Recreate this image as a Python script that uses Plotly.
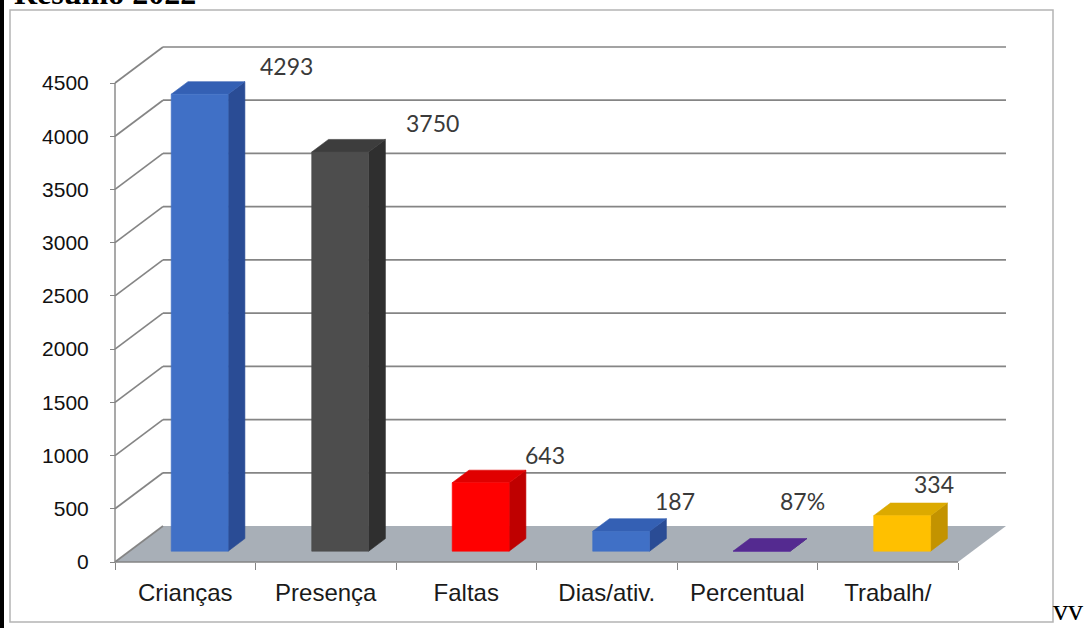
import plotly.graph_objects as go

# ---------------- data ----------------
categories = ["Crianças", "Presença", "Faltas", "Dias/ativ.", "Percentual", "Trabalh/"]
values = [4293, 3750, 643, 187, 0.87, 334]
value_labels = ["4293", "3750", "643", "187", "87%", "334"]
y_ticks = [0, 500, 1000, 1500, 2000, 2500, 3000, 3500, 4000, 4500]

# ---------------- style ----------------
front_colors = ["#4070c6", "#4d4d4d", "#ff0000", "#4070c6", "#5e2f9e", "#ffc000"]
side_colors = ["#2a4c95", "#2f2f2f", "#bf0000", "#2a4c95", "#45207a", "#c39300"]
top_colors = ["#3460b4", "#3d3d3d", "#e00000", "#3460b4", "#542a90", "#dcaa00"]
label_dx = [87, 92, 64, 54, 41, 32]   # pixel shifts of the value labels
label_dy = [28, 29, 28, 30, 50, 32]

W, H = 1087, 628
FRONT_LEFT_PX, FRONT_RIGHT_PX = 115, 958
Y0_PX, YTOP_PX = 562, 83
PX_PER_CAT = (FRONT_RIGHT_PX - FRONT_LEFT_PX) / len(categories)
PX_PER_VAL = (Y0_PX - YTOP_PX) / y_ticks[-1]

x0 = -0.5 - FRONT_LEFT_PX / PX_PER_CAT
x_range = [x0, x0 + W / PX_PER_CAT]
y_range = [-(H - Y0_PX) / PX_PER_VAL, Y0_PX / PX_PER_VAL]

DX = 48 / PX_PER_CAT     # depth offset (category units)
DY = 36 / PX_PER_VAL     # depth offset (value units)
D0, D1 = 0.30, 0.65      # bar depth span within the floor
HW = 0.2025              # half bar width
GRID = "#858585"
FLOOR = "#a8afb7"

xl_edge = -0.5
xr_edge = len(categories) - 0.5

fig = go.Figure()

# floor
fig.add_trace(go.Scatter(
    x=[xl_edge, xr_edge, xr_edge + DX, xl_edge + DX, xl_edge],
    y=[0, 0, DY, DY, 0], fill="toself", fillcolor=FLOOR,
    mode="lines", line=dict(width=0), hoverinfo="skip", showlegend=False))

# back wall gridlines and side-wall diagonals
gx, gy = [], []
for v in y_ticks:
    if v > 0:
        gx += [xl_edge + DX, xr_edge + DX, None]
        gy += [v + DY, v + DY, None]
    gx += [xl_edge, xl_edge + DX, None]
    gy += [v, v + DY, None]
fig.add_trace(go.Scatter(x=gx, y=gy, mode="lines", line=dict(color=GRID, width=1.7),
                         hoverinfo="skip", showlegend=False))

# front vertical axis and floor front edge
fig.add_trace(go.Scatter(x=[xl_edge, xl_edge, None, xl_edge, xr_edge],
                         y=[y_ticks[-1], 0, None, 0, 0], mode="lines",
                         line=dict(color=GRID, width=1.4), hoverinfo="skip", showlegend=False))

# 3D bars
ddx = (D1 - D0) * DX
ddy = (D1 - D0) * DY
annotations = []
for i, v in enumerate(values):
    xl = i - HW + D0 * DX
    xr = i + HW + D0 * DX
    yb = D0 * DY
    yt = yb + v
    faces = [
        ([xr, xr + ddx, xr + ddx, xr, xr], [yb, yb + ddy, yt + ddy, yt, yb], side_colors[i]),
        ([xl, xr, xr + ddx, xl + ddx, xl], [yt, yt, yt + ddy, yt + ddy, yt], top_colors[i]),
        ([xl, xr, xr, xl, xl], [yb, yb, yt, yt, yb], front_colors[i]),
    ]
    for fx, fy, col in faces:
        fig.add_trace(go.Scatter(x=fx, y=fy, fill="toself", fillcolor=col, mode="lines",
                                 line=dict(width=0.6, color=col), hoverinfo="skip",
                                 showlegend=False))
    annotations.append(dict(
        x=i + D0 * DX, y=yt, xref="x", yref="y", text=value_labels[i],
        showarrow=False, xshift=label_dx[i], yshift=label_dy[i],
        xanchor="center", yanchor="middle",
        font=dict(family="Lato, Liberation Sans, sans-serif", size=23, color="#3a3a3a")))

# page texts
annotations.append(dict(x=12 / W, y=1 - 13 / H, xref="paper", yref="paper", text="<b>Resumo 2022</b>",
                        showarrow=False, xanchor="left", yanchor="bottom",
                        font=dict(family="Liberation Serif, Times New Roman, serif", size=32, color="#000")))
annotations.append(dict(x=1 - 2 / W, y=0, xref="paper", yref="paper", text="vv",
                        showarrow=False, xanchor="right", yanchor="bottom",
                        font=dict(family="Liberation Serif, Times New Roman, serif", size=30, color="#000")))

shapes = [
    dict(type="rect", xref="paper", yref="paper", x0=0, x1=4 / W, y0=0, y1=1,
         fillcolor="#000", line=dict(width=0), layer="above"),
    dict(type="rect", xref="paper", yref="paper", x0=10 / W, x1=1053 / W, y0=1 - 622 / H, y1=1 - 10 / H,
         fillcolor="rgba(0,0,0,0)", line=dict(color="#b4b4b4", width=1.5), layer="above"),
]

fig.update_layout(
    width=W, height=H, margin=dict(l=0, r=0, t=0, b=0),
    paper_bgcolor="white", plot_bgcolor="white",
    showlegend=False, annotations=annotations, shapes=shapes,
    xaxis=dict(range=x_range, domain=[0, 1], anchor="free", position=(H - Y0_PX) / H,
               tickmode="array", tickvals=list(range(len(categories))), ticktext=categories,
               ticks="", showgrid=False, zeroline=False, showline=False,
               ticklabelstandoff=14,
               tickfont=dict(family="Liberation Sans, Arial, sans-serif", size=24, color="#1a1a1a"),
               minor=dict(tickmode="array", tickvals=[i - 0.5 for i in range(len(categories) + 1)],
                          ticks="outside", ticklen=7, tickwidth=1.2, tickcolor=GRID, showgrid=False)),
    yaxis=dict(range=y_range, domain=[0, 1], anchor="free", position=FRONT_LEFT_PX / W,
               tickmode="array", tickvals=y_ticks, ticks="outside", ticklen=5, tickwidth=1.2,
               tickcolor=GRID, ticklabelstandoff=17,
               showgrid=False, zeroline=False, showline=False,
               tickfont=dict(family="Liberation Sans, Arial, sans-serif", size=21, color="#111111")),
)

fig.write_html("out.html", config={"displayModeBar": False},
               post_script="document.body.style.margin='0px';document.body.style.overflow='hidden';")
